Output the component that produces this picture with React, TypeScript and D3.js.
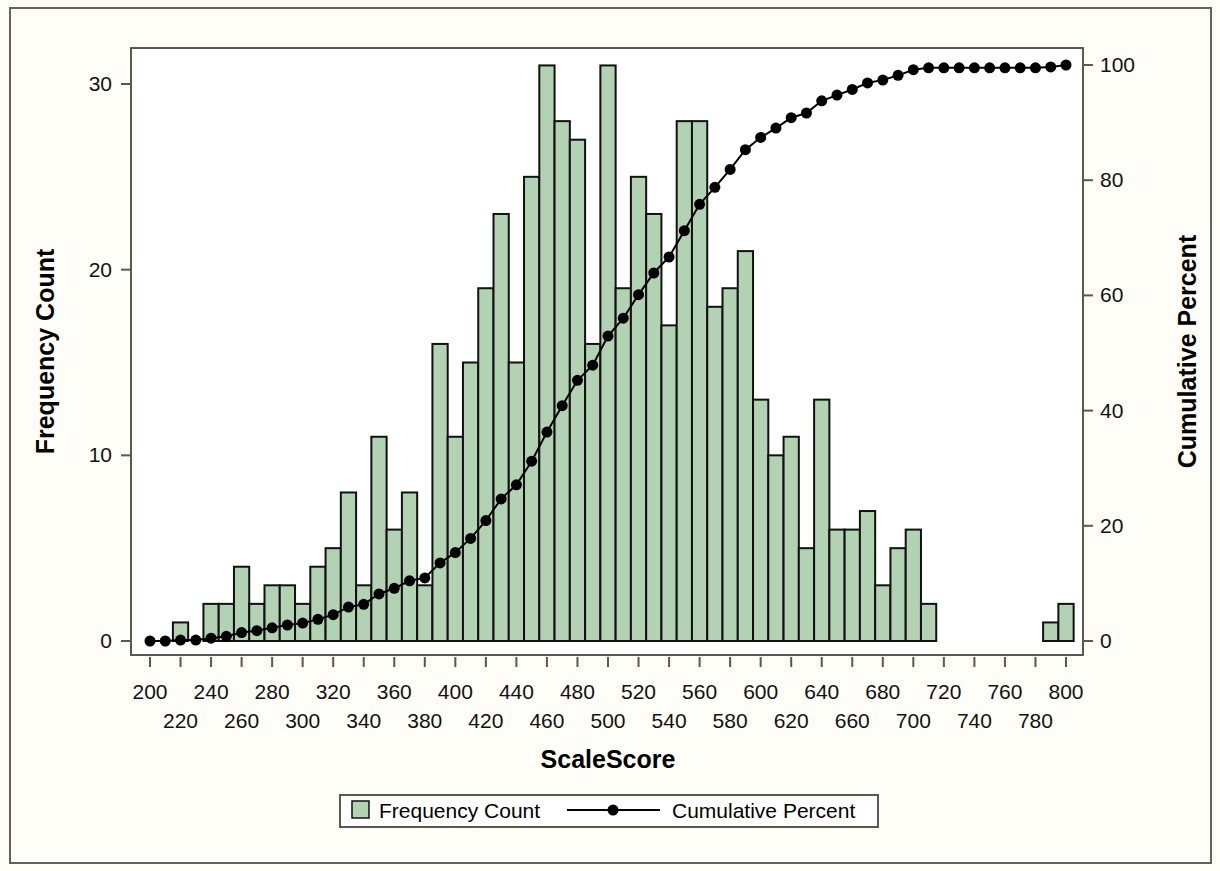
import React from "react";
import * as d3 from "d3";

const scores = d3.range(200, 801, 10);
const counts = [0,0,1,0,2,2,4,2,3,3,2,4,5,8,3,11,6,8,3,16,11,15,19,23,15,25,31,28,27,16,31,19,25,23,17,28,28,18,19,21,13,10,11,5,13,6,6,7,3,5,6,2,0,0,0,0,0,0,0,1,2];
const xTicks = d3.range(200, 801, 20);
const leftTicks = [0, 10, 20, 30];
const rightTicks = [0, 20, 40, 60, 80, 100];

export default function App() {
  const total = d3.sum(counts);
  const cum: number[] = Array.from(d3.cumsum(counts), (c) => (c / total) * 100);
  const L = 131, R = 1083, T = 48, B = 655;
  const x = d3.scaleLinear().domain([200, 800]).range([150, 1066]);
  const yL = d3.scaleLinear().domain([0, 30]).range([641, 84]);
  const yR = d3.scaleLinear().domain([0, 100]).range([641, 65]);
  const bw = x(210) - x(200);
  const line = d3.line<number>().x((_, i) => x(scores[i])).y((d) => yR(d));
  const font = "'Liberation Sans', Arial, sans-serif";
  const fs = 21;
  return (
    <svg width={1220} height={871} style={{ position: "absolute", left: 0, top: 0 }} fontFamily={font}>
      <rect x={0} y={0} width={1220} height={871} fill="#fffdf7" />
      <rect x={10} y={8} width={1201} height={855} fill="none" stroke="#66625a" strokeWidth={2} />
      <rect x={L} y={T} width={R - L} height={B - T} fill="#fff" stroke="#5c584e" strokeWidth={2} />
      {counts.map((c, i) =>
        c > 0 ? (
          <rect key={i} x={x(scores[i]) - bw / 2} y={yL(c)} width={bw} height={yL(0) - yL(c)}
            fill="#b3d2b3" stroke="#111" strokeWidth={2} />
        ) : null
      )}
      <path d={line(cum) || ""} fill="none" stroke="#000" strokeWidth={2} />
      {cum.map((v, i) => (
        <circle key={i} cx={x(scores[i])} cy={yR(v)} r={5.5} fill="#000" />
      ))}
      {xTicks.map((t, i) => (
        <g key={t}>
          <line x1={x(t)} x2={x(t)} y1={B + 2} y2={B + 12} stroke="#5c584e" strokeWidth={2} />
          <text x={x(t)} y={i % 2 === 0 ? 699 : 728} textAnchor="middle" fontSize={fs} fill="#111">{t}</text>
        </g>
      ))}
      {leftTicks.map((t) => (
        <g key={t}>
          <line x1={L - 10} x2={L - 1} y1={yL(t)} y2={yL(t)} stroke="#5c584e" strokeWidth={2} />
          <text x={112} y={yL(t) + 7} textAnchor="end" fontSize={fs} fill="#111">{t}</text>
        </g>
      ))}
      {rightTicks.map((t) => (
        <g key={t}>
          <line x1={R + 1} x2={R + 10} y1={yR(t)} y2={yR(t)} stroke="#5c584e" strokeWidth={2} />
          <text x={1100} y={yR(t) + 7} textAnchor="start" fontSize={fs} fill="#111">{t}</text>
        </g>
      ))}
      <text x={(x(200) + x(800)) / 2} y={768} textAnchor="middle" fontSize={25} fontWeight="bold">ScaleScore</text>
      <text transform={`translate(54,${(T + B) / 2}) rotate(-90)`} textAnchor="middle" fontSize={25} fontWeight="bold">Frequency Count</text>
      <text transform={`translate(1196,${(T + B) / 2}) rotate(-90)`} textAnchor="middle" fontSize={25} fontWeight="bold">Cumulative Percent</text>
      <g>
        <rect x={340} y={795} width={538} height={32} fill="#fff" stroke="#5c584e" strokeWidth={2} />
        <rect x={352} y={801} width={17} height={17} fill="#b3d2b3" stroke="#111" strokeWidth={1.5} />
        <text x={379} y={818} fontSize={fs}>Frequency Count</text>
        <line x1={567} x2={660} y1={810} y2={810} stroke="#000" strokeWidth={2} />
        <circle cx={613} cy={810} r={5.5} fill="#000" />
        <text x={672} y={818} fontSize={fs}>Cumulative Percent</text>
      </g>
    </svg>
  );
}
